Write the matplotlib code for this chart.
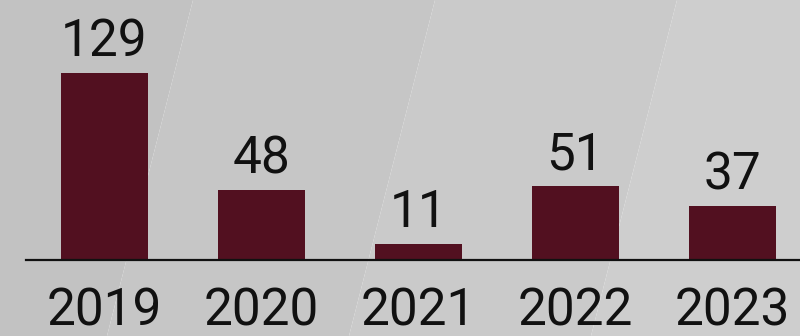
import matplotlib
matplotlib.use("Agg")
import matplotlib.pyplot as plt
from matplotlib.patches import Polygon

years = ["2019", "2020", "2021", "2022", "2023"]
counts = [129, 48, 11, 51, 37]

BAR_COLOR = "#521020"
W, H = 800, 336

fig = plt.figure(figsize=(W / 100, H / 100), dpi=100)

# Diagonal background bands, lightening towards the right
band_tops = [-400, 193, 435, 677, 1200]
band_colors = ["#c2c2c2", "#c6c6c6", "#cacaca", "#cecece"]
slope = 0.256
for i, col in enumerate(band_colors):
    x0, x1 = band_tops[i], band_tops[i + 1]
    # (pixel x, pixel y from top): top edge then bottom edge
    pts = [(x0, 0), (x1, 0), (x1 - slope * H, H), (x0 - slope * H, H)]
    pts = [(px / W, 1 - py / H) for px, py in pts]
    fig.patches.append(Polygon(pts, closed=True, transform=fig.transFigure,
                               facecolor=col, edgecolor="none", zorder=-5))

ax = fig.add_axes([26 / W, 76 / H, 774 / W, 260 / H])
ax.set_zorder(2)
ax.patch.set_alpha(0)
x = range(len(years))
ax.bar(x, counts, width=0.554, color=BAR_COLOR, zorder=2)
ax.set_xlim(-0.5, 4.43)
ax.set_ylim(0, 179.3)

font = dict(family="Roboto", fontsize=37, color="#111111")
for xi, v in zip(x, counts):
    ax.annotate(str(v), (xi, v), xytext=(0, 4), textcoords="offset points",
                ha="center", va="bottom", **font)

ax.set_xticks(list(x))
ax.set_xticklabels(years, **font)
ax.tick_params(axis="x", length=0, pad=19)
ax.set_yticks([])
for side in ["top", "right", "left"]:
    ax.spines[side].set_visible(False)
ax.spines["bottom"].set_linewidth(1.6)
ax.spines["bottom"].set_color("#111111")

fig.savefig("out.png", dpi=100)
